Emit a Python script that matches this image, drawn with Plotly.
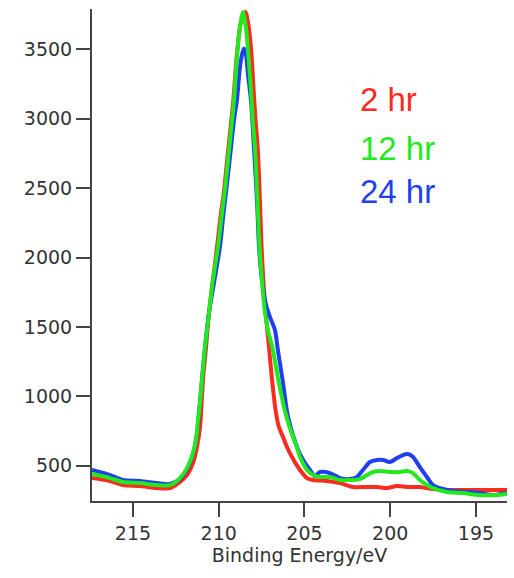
import plotly.graph_objects as go

# Binding energy (eV) and intensity for each series
be_2hr = [217.39, 216.34, 215.58, 214.59, 213.60, 212.84, 212.26, 211.85, 211.50, 211.27,
          211.09, 210.92, 210.74, 210.57, 210.34, 210.10, 209.87, 209.72, 209.45, 209.15,
          208.96, 208.72, 208.44, 208.25, 208.10, 208.00, 207.86, 207.72, 207.60, 207.50,
          207.40, 207.26, 207.07, 206.89, 206.66, 206.49, 206.25, 206.02, 205.73, 205.26,
          204.85, 204.50, 203.69, 202.93, 202.17, 201.36, 200.77, 200.19, 199.61, 199.02,
          198.27, 197.51, 196.69, 195.52, 194.36, 193.19]
int_2hr = [411, 390, 361, 354, 339, 339, 383, 433, 519, 635,
           779, 1117, 1355, 1600, 1838, 2076, 2321, 2450, 2774, 3133,
           3435, 3685, 3769, 3660, 3480, 3279, 3000, 2774, 2414, 2076,
           1838, 1600, 1355, 1117, 880, 779, 707, 635, 563, 469,
           411, 397, 390, 375, 347, 347, 347, 339, 354, 347,
           347, 332, 325, 325, 325, 325]

be_12hr = [217.39, 216.34, 215.58, 214.59, 213.60, 212.84, 212.26, 211.85, 211.50, 211.27,
           211.21, 211.15, 210.98, 210.80, 210.57, 210.34, 210.04, 209.81, 209.64, 209.40,
           209.11, 208.99, 208.82, 208.59, 208.40, 208.25, 208.12, 208.02, 207.88, 207.74,
           207.62, 207.48, 207.30, 207.13, 206.84, 206.49, 206.08, 205.67, 205.44, 205.26,
           204.85, 204.50, 204.10, 203.51, 202.93, 202.35, 201.76, 201.36, 201.01, 200.60,
           200.01, 199.43, 199.02, 198.67, 198.27, 197.86, 197.51, 196.69, 195.76, 194.77,
           193.78, 193.19]
int_12hr = [440, 411, 383, 375, 361, 361, 411, 483, 591, 735,
            830, 880, 1117, 1355, 1600, 1838, 2076, 2321, 2486, 2774,
            3133, 3351, 3603, 3769, 3640, 3423, 3207, 3000, 2774, 2414,
            2076, 1838, 1600, 1477, 1333, 1095, 866, 707, 635, 563,
            469, 433, 419, 419, 397, 397, 404, 433, 455, 462,
            455, 455, 462, 447, 397, 361, 339, 311, 303, 289,
            289, 296]

be_24hr = [217.39, 216.34, 215.58, 214.59, 213.60, 212.84, 212.26, 211.85, 211.50, 211.27,
           211.15, 210.98, 210.80, 210.57, 210.25, 209.93, 209.72, 209.55, 209.30, 209.10,
           208.94, 208.78, 208.65, 208.53, 208.41, 208.29, 208.12, 207.94, 207.77, 207.65,
           207.48, 207.24, 207.01, 206.72, 206.55, 206.25, 205.96, 205.44, 205.08, 204.68,
           204.39, 204.10, 203.51, 202.93, 202.35, 201.94, 201.59, 201.18, 200.77, 200.42,
           200.01, 199.61, 199.26, 198.97, 198.67, 198.27, 197.86, 197.51, 197.10, 196.34,
           195.52, 194.77, 194.01, 193.60, 193.19]
int_24hr = [469, 433, 397, 390, 375, 368, 404, 476, 584, 728,
            880, 1117, 1355, 1600, 1838, 2076, 2321, 2500, 2774, 3000,
            3133, 3351, 3459, 3506, 3459, 3315, 3133, 2774, 2414, 2076,
            1838, 1658, 1571, 1477, 1333, 1095, 851, 635, 541, 469,
            426, 455, 447, 411, 404, 419, 469, 527, 541, 541,
            527, 555, 577, 584, 563, 490, 419, 361, 339, 318,
            311, 303, 289, 296, 303]

series_names = ["2 hr", "12 hr", "24 hr"]
series_colors = ["#ff2a1f", "#22e81e", "#1f3ff0"]
x_ticks = [215, 210, 205, 200, 195]
y_ticks = [500, 1000, 1500, 2000, 2500, 3000, 3500]

fig = go.Figure()
data = [(be_2hr, int_2hr), (be_24hr, int_24hr), (be_12hr, int_12hr)]
order = [0, 2, 1]
for (xs, ys), idx in zip(data, order):
    fig.add_trace(go.Scatter(
        x=xs, y=ys, mode="lines", name=series_names[idx],
        line=dict(color=series_colors[idx], width=4, shape="spline", smoothing=0.8),
        showlegend=False,
    ))

label_y = [0.817, 0.716, 0.630]
for name, color, ly in zip(series_names, series_colors, label_y):
    fig.add_annotation(
        x=0.64, y=ly, xref="paper", yref="paper", text=name, showarrow=False,
        xanchor="left", yanchor="middle",
        font=dict(family="Liberation Sans, Arial, sans-serif", size=33, color=color),
    )

axis_common = dict(
    showgrid=False, zeroline=False, showline=True, linecolor="#444", linewidth=2,
    ticks="outside", ticklen=14, tickwidth=2, tickcolor="#444",
    tickfont=dict(family="DejaVu Sans, sans-serif", size=19, color="#333"),
)

fig.update_layout(
    width=514, height=578,
    margin=dict(l=92, r=7, t=9, b=77),
    paper_bgcolor="white", plot_bgcolor="white",
    xaxis=dict(range=[217.39, 193.19], tickvals=x_ticks,
               title=dict(text="Binding Energy/eV", standoff=6,
                          font=dict(family="DejaVu Sans, sans-serif", size=19, color="#333")),
               **axis_common),
    yaxis=dict(range=[246, 3791], tickvals=y_ticks, **axis_common),
)

fig.write_html("out.html", config={"displayModeBar": False},
               post_script="document.body.style.margin='0px';document.body.style.overflow='hidden';")
